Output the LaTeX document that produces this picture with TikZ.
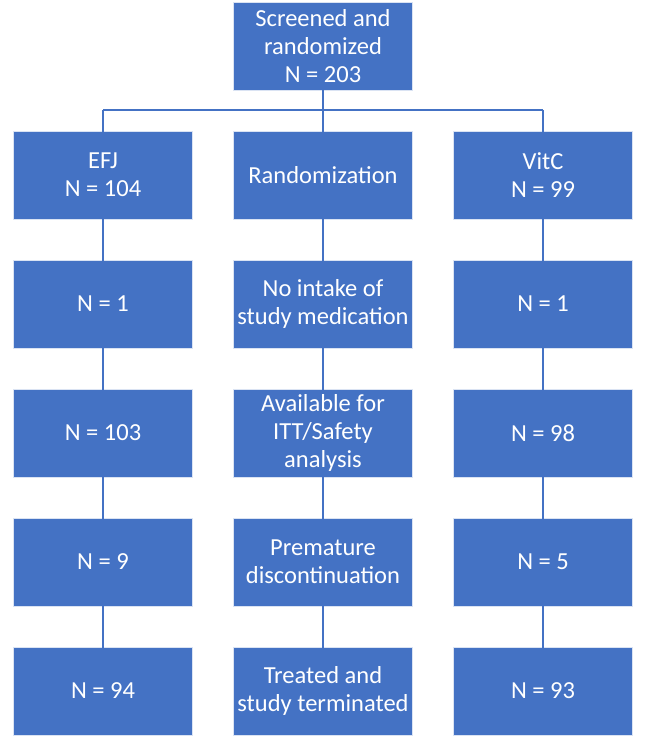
\documentclass[tikz,border=0pt]{standalone}
\usepackage{fontspec}
\setmainfont{Carlito}
\definecolor{obox}{HTML}{4472C4}
\tikzset{
  boxnode/.style={rectangle, fill=obox, draw=white!80!obox, line width=0.6pt,
    minimum width=179pt, minimum height=88pt, inner sep=1pt,
    text=white, align=center,
    font=\fontsize{24.5}{28}\selectfont},
  conn/.style={draw=obox, line width=1.6pt}
}
\begin{document}
\begin{tikzpicture}[x=1pt,y=-1pt]
\useasboundingbox (0,0) rectangle (646,738);
\node[boxnode] (top) at (323,46) {Screened and\\randomized\\N = 203};
% columns
\foreach \name/\txt [count=\i] in {a1/{EFJ\\N = 104}, a2/{N = 1}, a3/{N = 103}, a4/{N = 9}, a5/{N = 94}}
  \node[boxnode] (\name) at (103,{175+129*(\i-1)}) {\txt};
\foreach \name/\txt [count=\i] in {b1/{Randomization}, b2/{No intake of\\study medication}, b3/{Available for\\ITT/Safety\\analysis}, b4/{Premature\\discontinuation}, b5/{Treated and\\study terminated}}
  \node[boxnode] (\name) at (323,{175+129*(\i-1)}) {\txt};
\foreach \name/\txt [count=\i] in {c1/{VitC\\N = 99}, c2/{N = 1}, c3/{N = 98}, c4/{N = 5}, c5/{N = 93}}
  \node[boxnode] (\name) at (543,{175+129*(\i-1)}) {\txt};
\coordinate (hl) at (103,110);
\coordinate (hr) at (543,110);
\coordinate (hm) at (323,110);
\draw[conn] ([yshift=2pt]top.south) -- (hm);
\draw[conn] (hl) -- (hr);
\draw[conn] (hl) -- ([yshift=-2pt]a1.north);
\draw[conn] (hm) -- ([yshift=-2pt]b1.north);
\draw[conn] (hr) -- ([yshift=-2pt]c1.north);
\foreach \c in {a,b,c}{
  \foreach \i/\j in {1/2,2/3,3/4,4/5}{
    \draw[conn] ([yshift=3pt]\c\i.south) -- ([yshift=-3pt]\c\j.north);
  }
}
\end{tikzpicture}
\end{document}
